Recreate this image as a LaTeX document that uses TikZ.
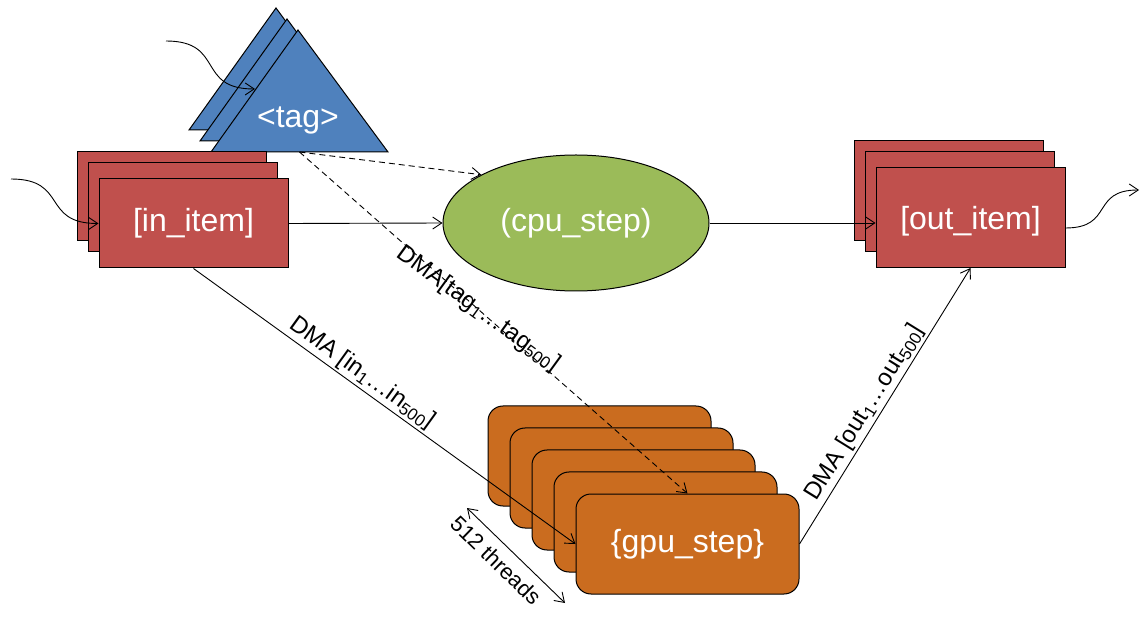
\documentclass[tikz,border=0pt]{standalone}
\usepackage{fontspec}
\setmainfont{Liberation Sans}
\usetikzlibrary{arrows.meta,shapes.geometric}
\definecolor{boxred}{HTML}{C0504D}
\definecolor{tagblue}{HTML}{4F81BD}
\definecolor{cpugreen}{HTML}{9BBB59}
\definecolor{gpuorange}{HTML}{CA6C1F}
\begin{document}
\begin{tikzpicture}[x=1pt,y=-1pt,
  bigtext/.style={text=white, font=\fontsize{32}{38}\selectfont},
  item/.style={draw=black, line width=1pt, fill=boxred, minimum width=189pt, minimum height=89pt, inner sep=0pt, bigtext},
  outbox/.style={item, minimum height=100pt},
  gpubox/.style={draw=black, line width=1pt, fill=gpuorange, rounded corners=15pt, minimum width=223pt, minimum height=100pt, inner sep=0pt, bigtext},
  cpushape/.style={draw=black, line width=1pt, fill=cpugreen, ellipse, minimum width=266pt, minimum height=136pt, inner sep=0pt, bigtext},
  tri/.style={draw=black, line width=1pt, fill=tagblue},
  tip/.tip={Straight Barb[length=9pt,width=12pt]},
  conn/.style={line width=0.9pt, -tip},
  dconn/.style={conn, dash pattern=on 6pt off 4pt},
  lbl/.style={font=\fontsize{24}{28}\selectfont, inner sep=2pt, text=black},
  smalllbl/.style={font=\fontsize{22}{26}\selectfont, inner sep=2pt, text=black}
]
\useasboundingbox (0,0) rectangle (1141,617);

% tag triangles
\draw[tri] (276,8) -- (366,130) -- (189,130) -- cycle;
\draw[tri] (287,19) -- (377,141) -- (200,141) -- cycle;
\draw[tri] (298,30) -- (388,152) -- (211,152) -- cycle;
\node[bigtext, inner sep=0pt] (tag) at (298,120) {\textless tag\textgreater};
\coordinate (tagbase) at (299.5,152);
\coordinate (tagedge) at (255,89);
\coordinate (tagsrc) at (166,41);

% in_item stack
\node[item] (in1) at (171.5,196.5) {};
\node[item] (in2) at (182.5,207.5) {};
\node[item] (in3) at (193.5,223.5) {[in\_item]};
\coordinate (insrc) at (11,179);

% cpu step
\node[cpushape] (cpu) at (576,223) {(cpu\_step)};

% out_item stack
\node[outbox] (out1) at (948.5,191) {};
\node[outbox] (out2) at (959.5,202) {};
\node[outbox] (out3) at (970.5,217.5) {\raisebox{-4pt}[\height][\depth]{[out\_item]}};
\coordinate (outdst) at (1139,190);

% gpu step stack
\node[gpubox] (g1) at (599.5,456) {};
\node[gpubox] (g2) at (621.5,478) {};
\node[gpubox] (g3) at (643.5,500) {};
\node[gpubox] (g4) at (665.5,522) {};
\node[gpubox] (g5) at (687.5,544) {\{gpu\_step\}};

% connectors
\draw[conn] (tagsrc) to[out=0,in=180,looseness=1.5] (tagedge);
\draw[conn] (insrc) to[out=0,in=180,looseness=1.5] (in3.west);
\draw[conn] (out3.east |- 0,228) to[out=0,in=180,looseness=1.5] (outdst);

\draw[conn] (in3.east) -- (cpu.west);
\draw[conn] (cpu.east) -- (cpu.east -| out3.west);

\draw[dconn] (tagbase) -- (cpu.153);
\draw[dconn] (tagbase) -- (g5.north)
  node[lbl, pos=0.46, rotate=-36] {DMA[tag\textsubscript{1}…tag\textsubscript{500}]};

\draw[conn] (in3.south) -- (g5.west)
  node[lbl, sloped, above, pos=0.42] {DMA [in\textsubscript{1}…in\textsubscript{500}]};
\draw[conn] (g5.east) -- (out3.south)
  node[lbl, sloped, above, pos=0.45] {DMA [out\textsubscript{1}…out\textsubscript{500}]};

\coordinate (thA) at (467,508);
\coordinate (thB) at (565,603);
\draw[line width=0.9pt, tip-tip] (thA) -- (thB)
  node[smalllbl, sloped, below=7pt, pos=0.42] {512 threads};
\end{tikzpicture}
\end{document}
